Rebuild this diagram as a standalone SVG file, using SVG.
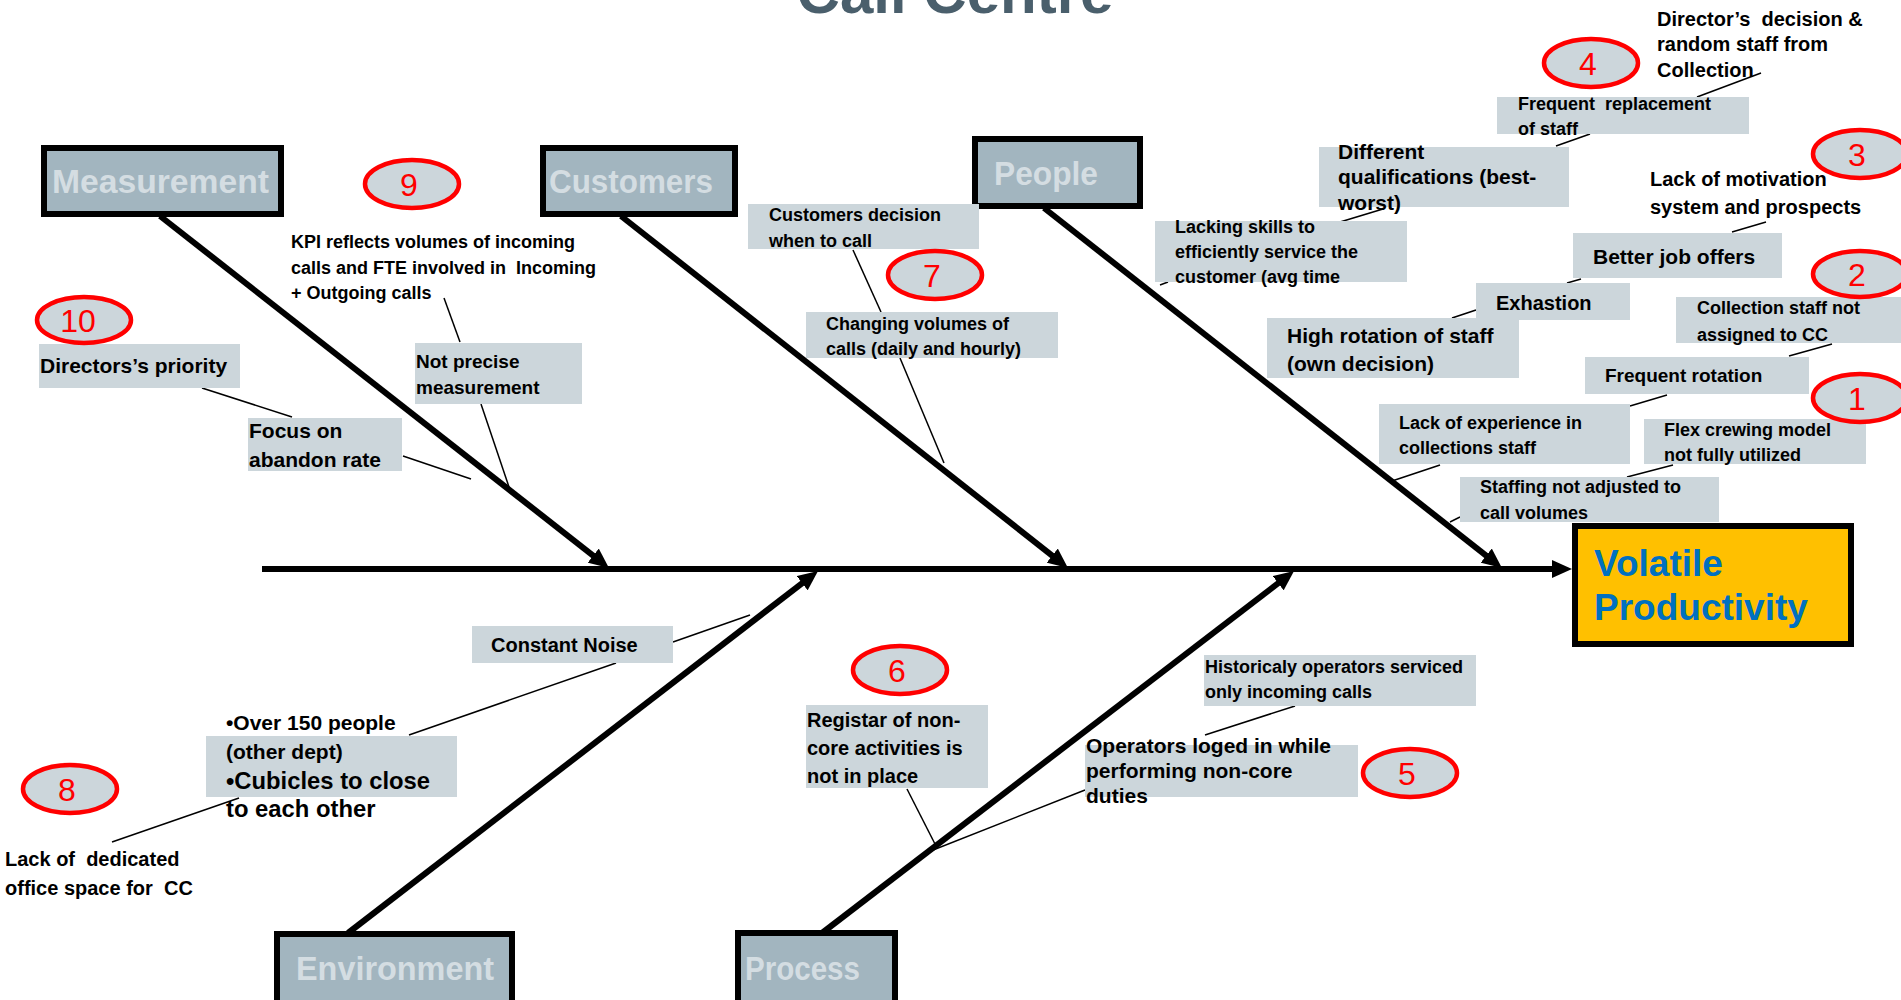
<svg xmlns="http://www.w3.org/2000/svg" width="1901" height="1000" viewBox="0 0 1901 1000">
  <defs>
    <style>
      text { font-family: "Liberation Sans", Arial, sans-serif; font-weight: bold; fill: #000; white-space: pre; }
      .title { font-size: 60px; fill: #4a5f6c; }
      .cat { fill: #a2b5bf; stroke: #000; stroke-width: 6; }
      .catt { font-size: 34px; fill: #d4dde2; }
      .lbl { fill: #ccd6db; }
      .bone { stroke: #000; stroke-width: 6; fill: none; }
      .lead { stroke: #000; stroke-width: 1.5; fill: none; }
      .badge { fill: #ccd6db; stroke: #ff0000; stroke-width: 4.5; }
      .badget { font-size: 32px; font-weight: normal; fill: #ff0000; text-anchor: middle; }
      .effect { fill: #ffc000; stroke: #000; stroke-width: 6; }
      .effectt { font-size: 37px; fill: #0070c0; }
      .s18 { font-size: 18px; }
      .s19 { font-size: 19px; }
      .s20 { font-size: 20px; }
      .s21 { font-size: 21px; }
    </style>
    <marker id="head" viewBox="0 0 20 18" refX="10" refY="9" markerWidth="20" markerHeight="18" markerUnits="userSpaceOnUse" orient="auto">
      <path d="M0,0 L20,9 L0,18 z" fill="#000"/>
    </marker>
  </defs>

  <rect width="1901" height="1000" fill="#fff"/>

  <!-- title, mostly above the top edge -->
  <text class="title" x="955" y="13" text-anchor="middle">Call Centre</text>

  <!-- spine and bones -->
  <g id="connectors">
    <line class="bone" x1="262" y1="569" x2="1562" y2="569" marker-end="url(#head)"/>
    <line class="bone" x1="160" y1="216" x2="601.1" y2="561.8" marker-end="url(#head)"/>
    <line class="bone" x1="621" y1="216" x2="1060.1" y2="561.8" marker-end="url(#head)"/>
    <line class="bone" x1="1044" y1="208" x2="1494.1" y2="561.8" marker-end="url(#head)"/>
    <line class="bone" x1="348" y1="933" x2="810.1" y2="577.1" marker-end="url(#head)"/>
    <line class="bone" x1="822" y1="933" x2="1286.1" y2="577.1" marker-end="url(#head)"/>

    <!-- leader lines between causes -->
    <line class="lead" x1="202" y1="388" x2="292" y2="417"/>
    <line class="lead" x1="403" y1="456" x2="471" y2="479"/>
    <line class="lead" x1="444" y1="298" x2="460" y2="342"/>
    <line class="lead" x1="481" y1="404" x2="509" y2="487"/>

    <line class="lead" x1="853" y1="250" x2="881" y2="312"/>
    <line class="lead" x1="900" y1="358" x2="944" y2="463"/>

    <line class="lead" x1="1761" y1="73" x2="1697" y2="97"/>
    <line class="lead" x1="1590" y1="134" x2="1556" y2="146"/>
    <line class="lead" x1="1383" y1="209" x2="1340" y2="222"/>
    <line class="lead" x1="1168" y1="282" x2="1160" y2="285"/>
    <line class="lead" x1="1766" y1="222" x2="1732" y2="232"/>
    <line class="lead" x1="1581" y1="279" x2="1567" y2="283"/>
    <line class="lead" x1="1476" y1="310" x2="1452" y2="318"/>
    <line class="lead" x1="1832" y1="344" x2="1789" y2="356"/>
    <line class="lead" x1="1667" y1="395" x2="1630" y2="406"/>
    <line class="lead" x1="1440" y1="465" x2="1392" y2="481"/>
    <line class="lead" x1="1673" y1="465" x2="1627" y2="477"/>
    <line class="lead" x1="1460" y1="517" x2="1450" y2="522"/>

    <line class="lead" x1="673" y1="642" x2="750" y2="615"/>
    <line class="lead" x1="409" y1="735" x2="616" y2="663"/>
    <line class="lead" x1="112" y1="842" x2="239" y2="798"/>

    <line class="lead" x1="907" y1="789" x2="935" y2="844"/>
    <line class="lead" x1="1085" y1="790" x2="928" y2="852"/>
    <line class="lead" x1="1295" y1="706" x2="1205" y2="735"/>
  </g>

  <!-- category heads -->
  <g id="measurement">
    <rect class="cat" x="44" y="148" width="237" height="66"/>
    <text class="catt" x="52" y="193" textLength="217" lengthAdjust="spacingAndGlyphs">Measurement</text>
  </g>
  <g id="customers">
    <rect class="cat" x="543" y="148" width="192" height="66"/>
    <text class="catt" x="549" y="193" textLength="164" lengthAdjust="spacingAndGlyphs">Customers</text>
  </g>
  <g id="people">
    <rect class="cat" x="975" y="139" width="165" height="67"/>
    <text class="catt" x="994" y="185" textLength="104" lengthAdjust="spacingAndGlyphs">People</text>
  </g>
  <g id="environment">
    <rect class="cat" x="277" y="934" width="235" height="80"/>
    <text class="catt" x="296" y="980" textLength="198" lengthAdjust="spacingAndGlyphs">Environment</text>
  </g>
  <g id="process">
    <rect class="cat" x="738" y="933" width="157" height="80"/>
    <text class="catt" x="745" y="980" textLength="115" lengthAdjust="spacingAndGlyphs">Process</text>
  </g>

  <!-- effect -->
  <g id="volatile-productivity">
    <rect class="effect" x="1575" y="526" width="276" height="118"/>
    <text class="effectt" x="1594" y="576">Volatile</text>
    <text class="effectt" x="1594" y="620">Productivity</text>
  </g>

  <!-- Measurement causes -->
  <g id="kpi">
    <text class="s18" x="291" y="248">KPI reflects volumes of incoming</text>
    <text class="s18" x="291" y="274">calls and FTE involved in  Incoming</text>
    <text class="s18" x="291" y="299">+ Outgoing calls</text>
  </g>
  <g id="directors-priority">
    <rect class="lbl" x="39" y="344" width="201" height="44"/>
    <text class="s21" x="40" y="373" font-size="20.7">Directors’s priority</text>
  </g>
  <g id="focus-abandon">
    <rect class="lbl" x="248" y="418" width="154" height="53"/>
    <text class="s21" x="249" y="438">Focus on</text>
    <text class="s21" x="249" y="467">abandon rate</text>
  </g>
  <g id="not-precise">
    <rect class="lbl" x="415" y="343" width="167" height="61"/>
    <text class="s19" x="416" y="368">Not precise</text>
    <text class="s19" x="416" y="394">measurement</text>
  </g>

  <!-- Customers causes -->
  <g id="customers-decision">
    <rect class="lbl" x="748" y="204" width="231" height="45"/>
    <text class="s18" x="769" y="221">Customers decision</text>
    <text class="s18" x="769" y="247">when to call</text>
  </g>
  <g id="changing-volumes">
    <rect class="lbl" x="806" y="312" width="252" height="46"/>
    <text class="s18" x="826" y="330">Changing volumes of</text>
    <text class="s18" x="826" y="355">calls (daily and hourly)</text>
  </g>

  <!-- People causes -->
  <g id="lacking-skills">
    <rect class="lbl" x="1155" y="221" width="252" height="61"/>
    <text class="s18" x="1175" y="233" font-size="18.5">Lacking skills to</text>
    <text class="s18" x="1175" y="258" font-size="18.5">efficiently service the</text>
    <text class="s18" x="1175" y="283" font-size="18.5">customer (avg time</text>
  </g>
  <g id="different-qualifications">
    <rect class="lbl" x="1319" y="147" width="250" height="60"/>
    <text class="s21" x="1338" y="159" font-size="21.4">Different</text>
    <text class="s21" x="1338" y="184" font-size="21.4">qualifications (best-</text>
    <text class="s21" x="1338" y="210" font-size="21.4">worst)</text>
  </g>
  <g id="frequent-replacement">
    <rect class="lbl" x="1497" y="97" width="252" height="37"/>
    <text class="s18" x="1518" y="110" font-size="18.6">Frequent  replacement</text>
    <text class="s18" x="1518" y="135" font-size="18.6">of staff</text>
  </g>
  <g id="directors-decision">
    <text class="s20" x="1657" y="26">Director’s  decision &amp;</text>
    <text class="s20" x="1657" y="51">random staff from</text>
    <text class="s20" x="1657" y="77">Collection</text>
  </g>
  <g id="lack-motivation">
    <text class="s20" x="1650" y="186" font-size="20.4">Lack of motivation</text>
    <text class="s20" x="1650" y="214" font-size="20.4">system and prospects</text>
  </g>
  <g id="better-job-offers">
    <rect class="lbl" x="1573" y="233" width="209" height="45"/>
    <text class="s21" x="1593" y="264">Better job offers</text>
  </g>
  <g id="exhastion">
    <rect class="lbl" x="1476" y="283" width="154" height="37"/>
    <text class="s20" x="1496" y="310">Exhastion</text>
  </g>
  <g id="high-rotation">
    <rect class="lbl" x="1267" y="318" width="252" height="60"/>
    <text class="s21" x="1287" y="343" font-size="21.2">High rotation of staff</text>
    <text class="s21" x="1287" y="371" font-size="21.2">(own decision)</text>
  </g>
  <g id="collection-staff">
    <rect class="lbl" x="1676" y="297" width="225" height="46"/>
    <text class="s18" x="1697" y="314" font-size="18.3">Collection staff not</text>
    <text class="s18" x="1697" y="341" font-size="18.3">assigned to CC</text>
  </g>
  <g id="frequent-rotation">
    <rect class="lbl" x="1585" y="357" width="224" height="37"/>
    <text class="s19" x="1605" y="382" font-size="18.7">Frequent rotation</text>
  </g>
  <g id="lack-experience">
    <rect class="lbl" x="1379" y="404" width="251" height="60"/>
    <text class="s18" x="1399" y="429">Lack of experience in</text>
    <text class="s18" x="1399" y="454">collections staff</text>
  </g>
  <g id="flex-crewing">
    <rect class="lbl" x="1644" y="419" width="222" height="45"/>
    <text class="s18" x="1664" y="436" font-size="18.4">Flex crewing model</text>
    <text class="s18" x="1664" y="461" font-size="18.4">not fully utilized</text>
  </g>
  <g id="staffing">
    <rect class="lbl" x="1460" y="477" width="259" height="45"/>
    <text class="s18" x="1480" y="493" font-size="18.4">Staffing not adjusted to</text>
    <text class="s18" x="1480" y="519" font-size="18.4">call volumes</text>
  </g>

  <!-- Environment causes -->
  <g id="constant-noise">
    <rect class="lbl" x="472" y="626" width="201" height="37"/>
    <text class="s20" x="491" y="652" font-size="20.5">Constant Noise</text>
  </g>
  <g id="over-150">
    <rect class="lbl" x="206" y="736" width="251" height="61"/>
    <text class="s21" x="226" y="730">•Over 150 people</text>
    <text class="s21" x="226" y="759">(other dept)</text>
    <text x="226" y="789" font-size="23.8">•Cubicles to close</text>
    <text x="226" y="817" font-size="23.8">to each other</text>
  </g>
  <g id="dedicated-space">
    <text class="s20" x="5" y="866" font-size="20.3">Lack of  dedicated</text>
    <text class="s20" x="5" y="895" font-size="20.3">office space for  CC</text>
  </g>

  <!-- Process causes -->
  <g id="registar">
    <rect class="lbl" x="806" y="705" width="182" height="83"/>
    <text class="s20" x="807" y="727" font-size="20.2">Registar of non-</text>
    <text class="s20" x="807" y="755" font-size="20.2">core activities is</text>
    <text class="s20" x="807" y="783" font-size="20.2">not in place</text>
  </g>
  <g id="historicaly">
    <rect class="lbl" x="1204" y="655" width="272" height="51"/>
    <text class="s18" x="1205" y="673" font-size="18.2">Historicaly operators serviced</text>
    <text class="s18" x="1205" y="698" font-size="18.2">only incoming calls</text>
  </g>
  <g id="operators-loged">
    <rect class="lbl" x="1085" y="745" width="273" height="52"/>
    <text class="s21" x="1086" y="753" font-size="21.3">Operators loged in while</text>
    <text class="s21" x="1086" y="778" font-size="21.3">performing non-core</text>
    <text class="s21" x="1086" y="803" font-size="21.3">duties</text>
  </g>

  <!-- numbered markers -->
  <g id="badge-1"><ellipse class="badge" cx="1860" cy="398" rx="47" ry="24"/><text class="badget" x="1857" y="410">1</text></g>
  <g id="badge-2"><ellipse class="badge" cx="1860" cy="274" rx="47" ry="23"/><text class="badget" x="1857" y="286">2</text></g>
  <g id="badge-3"><ellipse class="badge" cx="1860" cy="154" rx="47" ry="24"/><text class="badget" x="1857" y="166">3</text></g>
  <g id="badge-4"><ellipse class="badge" cx="1591" cy="63" rx="47" ry="24"/><text class="badget" x="1588" y="75">4</text></g>
  <g id="badge-5"><ellipse class="badge" cx="1410" cy="773" rx="47" ry="24"/><text class="badget" x="1407" y="785">5</text></g>
  <g id="badge-6"><ellipse class="badge" cx="900" cy="670" rx="47" ry="24"/><text class="badget" x="897" y="682">6</text></g>
  <g id="badge-7"><ellipse class="badge" cx="935" cy="275" rx="47" ry="24"/><text class="badget" x="932" y="287">7</text></g>
  <g id="badge-8"><ellipse class="badge" cx="70" cy="789" rx="47" ry="24"/><text class="badget" x="67" y="801">8</text></g>
  <g id="badge-9"><ellipse class="badge" cx="412" cy="184" rx="47" ry="24"/><text class="badget" x="409" y="196">9</text></g>
  <g id="badge-10"><ellipse class="badge" cx="84" cy="320" rx="47" ry="23"/><text class="badget" x="78" y="332">10</text></g>
</svg>
